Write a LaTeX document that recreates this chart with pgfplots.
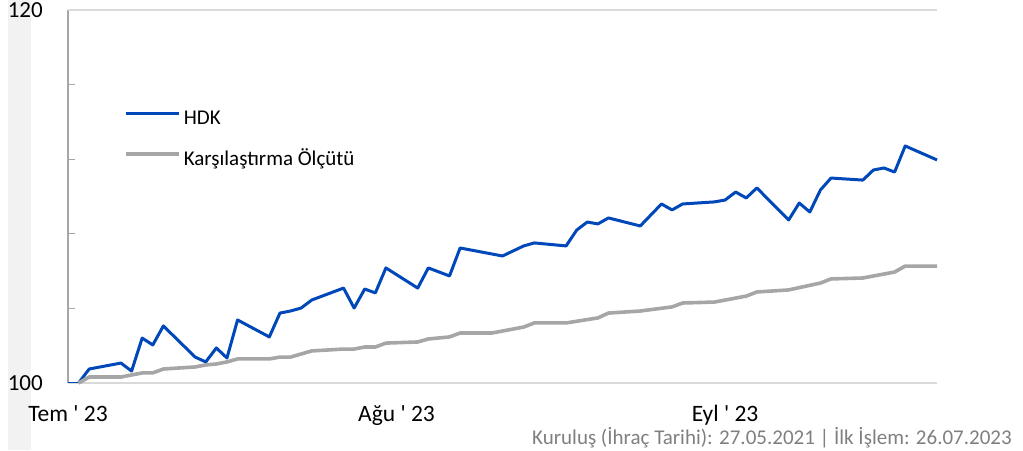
\documentclass[border=0pt]{standalone}
\usepackage{pgfplots}
\pgfplotsset{compat=1.18}
\usepackage{fontspec}
\setmainfont{Carlito}[Ligatures=TeXOff]
\definecolor{hdk}{RGB}{0,72,186}
\definecolor{olcut}{RGB}{166,166,166}
\definecolor{axgray}{RGB}{166,166,166}
\definecolor{gridgray}{RGB}{217,217,217}
\definecolor{stripgray}{RGB}{242,242,242}
\definecolor{footgray}{RGB}{127,127,127}
\begin{document}
\begin{tikzpicture}[x=1pt,y=1pt]
\fill[stripgray] (8,0) rectangle (31,450);
\begin{axis}[
  at={(68pt,67pt)}, anchor=south west,
  scale only axis, width=869pt, height=373pt,
  xmin=0, xmax=82, ymin=100, ymax=120,
  axis x line*=bottom, axis y line*=left,
  x axis line style={-, draw=gridgray, line width=1.6pt},
  y axis line style={-, draw=axgray, line width=1.2pt},
  xtick={0,31,62}, xticklabels={Tem ' 23, Ağu ' 23, Eyl ' 23},
  ytick={100,104,108,112,116,120}, yticklabels={100,,,,,120},
  tick align=inside, major tick length=7pt,
  x tick style={draw=none},
  y tick style={draw=axgray, line width=1.2pt},
  extra y ticks={120}, extra y tick labels={},
  extra y tick style={grid=major, major grid style={draw=gridgray, line width=1.6pt}, major tick length=0pt},
  xticklabel style={font=\fontsize{23.5}{27}\selectfont, inner sep=0pt, text height=15.5pt, text depth=4pt, yshift=-23pt},
  yticklabel style={font=\fontsize{23}{27}\selectfont, inner sep=0pt, xshift=-25pt},
  clip=false,
  legend style={at={(axis description cs:0.0644,0.7299)}, anchor=north west, draw=none, fill=none,
    inner sep=0pt, row sep=23.5pt, font=\fontsize{21}{25}\selectfont,
    nodes={inner sep=0pt, text height=13.5pt, text depth=4pt},
    /tikz/every odd column/.append style={column sep=3pt}},
  legend cell align=left,
  legend image code/.code={\draw[#1] (0pt,6.5pt) -- (53pt,6.5pt);},
]
\addplot[hdk, line width=1pt, forget plot] coordinates {(0,100) (1,100)};
\addplot[hdk, line width=3pt, line join=round] table {
x y
1 100
2 100.75
5 101.07
6 100.64
7 102.41
8 102.04
9 103.06
12 101.39
13 101.13
14 101.88
15 101.34
16 103.38
19 102.47
20 103.75
21 103.86
22 104.02
23 104.45
26 105.09
27 104.02
28 105.04
29 104.83
30 106.17
33 105.09
34 106.17
36 105.74
37 107.24
41 106.81
42 107.08
43 107.35
44 107.51
47 107.35
48 108.20
49 108.63
50 108.53
51 108.85
54 108.42
56 109.60
57 109.28
58 109.60
61 109.71
62 109.81
63 110.24
64 109.92
65 110.46
68 108.74
69 109.65
70 109.17
71 110.35
72 110.99
75 110.88
76 111.42
77 111.53
78 111.31
79 112.71
82 111.96
};
\addlegendentry{HDK}
\addplot[olcut, line width=3.6pt, line join=round] table {
x y
1 100
2 100.32
5 100.32
7 100.54
8 100.54
9 100.75
12 100.86
13 100.97
14 101.02
15 101.13
16 101.29
19 101.29
20 101.39
21 101.39
23 101.72
26 101.82
27 101.82
28 101.93
29 101.93
30 102.14
33 102.20
34 102.36
36 102.47
37 102.68
40 102.68
43 103.00
44 103.22
47 103.22
50 103.49
51 103.75
54 103.86
57 104.08
58 104.29
61 104.34
64 104.66
65 104.88
68 104.99
71 105.36
72 105.58
75 105.63
78 105.95
79 106.27
82 106.27
};
\addlegendentry{Karşılaştırma Ölçütü}
\end{axis}
\node[anchor=base east, font=\fontsize{21}{25}\selectfont, text=footgray, inner sep=0pt] at (1012,5.5) {Kuruluş (İhraç Tarihi): 27.05.2021 | İlk İşlem: 26.07.2023};
\pgfresetboundingbox
\useasboundingbox (0,0) rectangle (1023,450);
\end{tikzpicture}
\end{document}
